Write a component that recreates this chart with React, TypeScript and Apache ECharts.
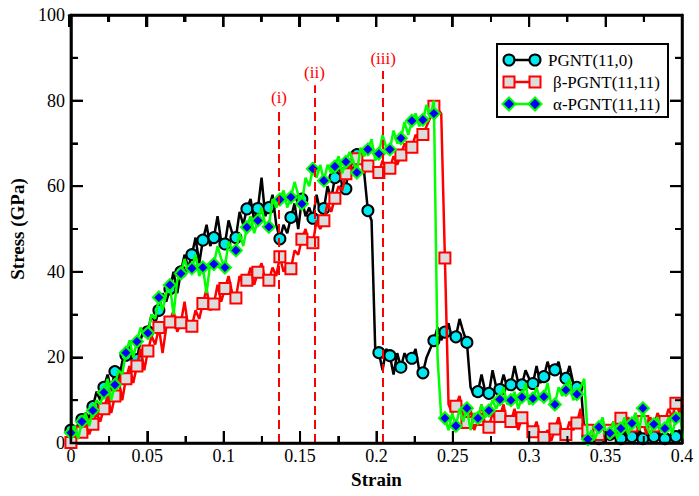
import React, { useEffect, useRef } from "react";
import * as echarts from "echarts";

// sampling grid of the curves (strain)
const LINE_STEP = 0.0024;
const MARKER_STEP = 0.0072;

// PGNT(11,0) — black curve (stress, GPa)
const pgntLine = [
  3, 2, 4.5, 5.5, 7, 6, 8.5, 12, 10, 13, 16, 12.5, 16.7, 14, 19, 20.5, 23, 18,
  19.5, 24, 27, 26, 30, 28, 31, 35, 33, 36, 40, 35, 40, 44, 41, 44, 48, 42,
  47.4, 51, 46, 48, 53, 47, 46.5, 52, 49, 48, 54, 51, 54.7, 57, 52, 54.8, 62, 53,
  55, 58, 51, 47.7, 51, 49, 52.7, 56, 50, 57, 53, 55, 52.5, 58, 54, 54.8, 60, 57,
  62, 65, 60, 59.4, 66, 63, 67.4, 68, 63, 54.3, 52, 22, 21.1, 17, 22, 20.4, 16, 21,
  17.7, 21, 19, 19.8, 22, 17, 16.4, 20, 22, 23.9, 27, 24, 25.9, 28, 24, 24.8, 29, 26,
  23.5, 13, 11, 12, 16, 12, 11.6, 17, 13, 12.5, 16, 13, 13.6, 18, 14, 13.6, 17, 15,
  13.9, 18, 14, 15.5, 19, 16, 17.1, 19, 15, 15.1, 18, 14, 13, 14, 3, 2, 1, 3,
  1.5, 0.5, 2.5, 2.5, 4, 1, 1.5, 3, 0.5, 2, 1, 3, 1.5, 2.5, 0.5, 2, 3.5, 1,
  1.5, 2, 0.5, 2, 3, 1.5,
];

// β-PGNT(11,11) — red curve
const betaLine = [
  0.1, 3, 1, 2.5, 5, 2, 4.4, 7, 5, 8, 11, 7, 11, 15, 10, 15, 18, 14,
  18, 22, 17, 21.5, 25, 23, 27, 21, 27, 28.3, 31, 26, 28.1, 33, 27, 27.3, 31, 29,
  32.6, 36, 31, 32.5, 37, 33, 36.1, 39, 35, 33.9, 39, 37, 38, 41, 37, 39.9, 42, 38,
  38, 41, 39, 43.5, 40, 42, 40.7, 45, 44, 47.6, 50, 46, 46.8, 52, 50, 51.9, 56, 54,
  57.2, 60, 59, 62.9, 65, 63, 66.4, 68, 63, 64.7, 66, 62, 63.2, 66, 64, 64.2, 67, 65,
  67.3, 70, 68, 69.1, 72, 71, 72.1, 74, 76, 78.7, 78, 77, 43.2, 9, 7, 8.6, 11, 6,
  4.8, 8, 3, 5.5, 9, 4, 3.7, 7, 5, 6.2, 9, 4, 5, 8, 3, 5.9, 7, 2,
  2.6, 5, 1, 1.3, 3, 0.5, 3.3, 6, 2, 2, 5, 3, 4.7, 8, 1, 3, 1, 4,
  2, 4.5, 1, 3, 5, 2, 5.8, 3, 6, 4, 7, 3, 5, 2, 6, 4, 7, 5,
  5, 8, 6, 9.3, 7, 10,
];

// α-PGNT(11,11) — green curve
const alphaLine = [
  2.4, 4, 1, 5, 7, 4, 7.6, 10, 9, 11.8, 15, 10, 13.6, 17, 16, 21.1, 24, 20,
  23.7, 27, 25, 25.7, 30, 29, 34, 31, 35, 36.9, 30, 38, 39.6, 43, 40, 40.8, 44, 39,
  41, 35, 42, 41.8, 46, 43, 41, 47, 45, 45, 49, 46, 50.4, 53, 49, 52, 55, 51,
  50.5, 57, 55, 56.9, 59, 55, 57.4, 61, 58, 55.9, 62, 60, 64.1, 62, 65, 61.3, 65, 63,
  64.6, 67, 63, 65.7, 68, 66, 63.2, 69, 67, 68.6, 71, 66, 67.6, 72, 69, 68.6, 73, 70,
  71.2, 75, 72, 75.3, 77, 74, 75.5, 79, 76, 80, 20, 6, 5.8, 3, 7, 4, 8, 5,
  8.1, 3, 7, 5.8, 9, 6, 7.6, 10, 8, 10.2, 13, 9, 10, 12, 8, 10.7, 14, 9,
  10.4, 13, 10, 10.8, 14, 9, 9, 13, 11, 12.4, 15, 10, 11.4, 13, 15, 0.9, 3, 1,
  3.7, 6, 2, 2.3, 5, 1, 3.4, 6, 2, 4.6, 7, 3, 8.1, 4, 2, 4.4, 6, 3,
  3.4, 6, 2, 5.8, 7, 1,
];

// symbol values (every MARKER_STEP)
const pgntMarkers = [
  3, 5.5, 8.5, 13, 16.7, 20.5, 19.5, 26, 31, 36, 40, 44, 47.4, 48, 46.5, 48,
  54.7, 54.8, 55, 47.7, 52.7, 57, 52.5, 54.8, 62, 59.4, 67.4, 54.3, 21.1, 20.4,
  17.7, 19.8, 16.4, 23.9, 25.9, 24.8, 23.5, 12, 11.6, 12.5, 13.6, 13.6, 13.9,
  15.5, 17.1, 15.1, 13, 1.5, 1, 2, 1, 1.5, 1, 1.5, 1, 1.5,
];
const betaMarkers = [
  0.1, 2.5, 4.4, 8, 11, 15, 18, 21.5, 27, 28.3, 28.1, 27.3, 32.6, 32.5, 36.1,
  33.9, 38, 39.9, 38, 43.5, 40.7, 47.6, 46.8, 51.9, 57.2, 62.9, 66.4, 64.7, 63.2,
  64.2, 67.3, 69.1, 72.1, 78.7, 43.2, 8.6, 4.8, 5.5, 3.7, 6.2, 5, 5.9, 2.6, 1.3,
  3.3, 2, 4.7, 3, 2, 3, 5.8, 4, 5, 4, 5, 9.3,
];
const alphaMarkers = [
  2.4, 5, 7.6, 11.8, 13.6, 21.1, 23.7, 25.7, 34, 36.9, 39.6, 40.8, 41, 41.8, 41,
  45, 50.4, 52, 50.5, 56.9, 57.4, 55.9, 64.1, 61.3, 64.6, 65.7, 63.2, 68.6, 67.6,
  68.6, 71.2, 75.3, 75.5, 77, 5.8, 4, 8.1, 5.8, 7.6, 10.2, 10, 10.7, 10.4, 10.8,
  9, 12.4, 11.4, 0.9, 3.7, 2.3, 3.4, 4.6, 8.1, 4.4, 3.4, 5.8,
];

// vertical dashed markers
const annotLabels = ["(i)", "(ii)", "(iii)"];
const annotStrain = [0.1362, 0.1594, 0.2044];
const annotTop = [77.8, 83.6, 86.9];

const legendNames = ["PGNT(11,0)", "\u03b2-PGNT(11,11)", "\u03b1-PGNT(11,11)"];

// axis ranges / tick spacing
const X_MIN = 0, X_MAX = 0.4, X_MAJOR = 0.05, X_MINOR = 0.025;
const Y_MIN = 0, Y_MAX = 100, Y_MAJOR = 20, Y_MINOR = 10;
const MAJOR_LEN = 12, MINOR_LEN = 7;

const FONT = "'Liberation Serif', 'Times New Roman', serif";

const toPairs = (arr: number[], step: number) =>
  arr.map((v, i) => [+(i * step).toFixed(5), v]);

const mkTicks = () => ({
  axisLine: { show: true, onZero: false, lineStyle: { color: "#000", width: 2.5 } },
  axisTick: { show: true, inside: true, length: MAJOR_LEN, lineStyle: { color: "#000", width: 2 } },
  minorTick: { show: true, splitNumber: 2, length: MINOR_LEN, lineStyle: { color: "#000", width: 2 } },
  splitLine: { show: false },
  minorSplitLine: { show: false },
});

export default function App() {
  const ref = useRef<HTMLDivElement>(null);
  useEffect(() => {
    if (!ref.current) return;
    const chart = echarts.init(ref.current, undefined, { renderer: "svg" });

    const xFmt = (v: number) => String(+v.toFixed(2));

    const lx = 509, rx = 535;
    const rows = [60, 82, 104];
    const legendGraphic: any[] = [
      {
        type: "rect",
        z: 100,
        shape: { x: 497, y: 44, width: 171, height: 73 },
        style: { fill: "#fff", stroke: "#000", lineWidth: 2 },
      },
    ];
    const lineColors = ["#000", "#ff0000", "#00ff00"];
    rows.forEach((y, r) => {
      legendGraphic.push({
        type: "line",
        z: 101,
        shape: { x1: lx, y1: y, x2: rx, y2: y },
        style: { stroke: lineColors[r], lineWidth: 2.5 },
      });
      [lx, rx].forEach((cx) => {
        if (r === 0) {
          legendGraphic.push({
            type: "circle",
            z: 102,
            shape: { cx, cy: y, r: 5.5 },
            style: { fill: "#00e8f0", stroke: "#000", lineWidth: 2 },
          });
        } else if (r === 1) {
          legendGraphic.push({
            type: "rect",
            z: 102,
            shape: { x: cx - 5.5, y: y - 5.5, width: 11, height: 11 },
            style: { fill: "#dcdcdc", stroke: "#ff0000", lineWidth: 2 },
          });
        } else {
          legendGraphic.push({
            type: "polygon",
            z: 102,
            shape: { points: [[cx, y - 6.5], [cx + 6.5, y], [cx, y + 6.5], [cx - 6.5, y]] },
            style: { fill: "#0000ff", stroke: "#00ff00", lineWidth: 2 },
          });
        }
      });
      legendGraphic.push({
        type: "text",
        z: 102,
        x: r === 0 ? 548 : 553,
        y,
        style: {
          text: legendNames[r],
          fontFamily: FONT,
          fontSize: 17,
          fill: "#000",
          verticalAlign: "middle",
          align: "left",
        },
      });
    });

    const option: any = {
      animation: false,
      grid: [
        { left: 69, right: 17, top: 15, bottom: 53 },
        { left: 69, right: 17, top: 15, bottom: 53 },
      ],
      xAxis: [
        {
          gridIndex: 0, type: "value", min: X_MIN, max: X_MAX, interval: X_MAJOR, position: "bottom",
          ...mkTicks(),
          axisLabel: { fontFamily: FONT, fontSize: 18, color: "#000", margin: 4, formatter: xFmt },
          name: "Strain", nameLocation: "middle", nameGap: 20,
          nameTextStyle: { fontFamily: FONT, fontSize: 19, fontWeight: "bold", color: "#000" },
        },
        {
          gridIndex: 1, type: "value", min: X_MIN, max: X_MAX, interval: X_MAJOR, position: "top",
          ...mkTicks(), axisLabel: { show: false },
        },
      ],
      yAxis: [
        {
          gridIndex: 0, type: "value", min: Y_MIN, max: Y_MAX, interval: Y_MAJOR, position: "left",
          ...mkTicks(),
          axisLabel: { fontFamily: FONT, fontSize: 18, color: "#000", margin: 6 },
          name: "Stress (GPa)", nameLocation: "middle", nameGap: 42,
          nameTextStyle: { fontFamily: FONT, fontSize: 19, fontWeight: "bold", color: "#000" },
        },
        {
          gridIndex: 1, type: "value", min: Y_MIN, max: Y_MAX, interval: Y_MAJOR, position: "right",
          ...mkTicks(), axisLabel: { show: false },
        },
      ],
      series: [
        {
          name: legendNames[0],
          type: "line",
          z: 2,
          data: toPairs(pgntLine, LINE_STEP),
          showSymbol: false,
          symbol: "none",
          lineStyle: { color: "#000", width: 2.5 },
        },
        {
          name: legendNames[0] + " markers",
          type: "scatter",
          z: 3,
          data: toPairs(pgntMarkers, MARKER_STEP),
          symbol: "circle",
          symbolSize: 11,
          itemStyle: { color: "#00e8f0", borderColor: "#000", borderWidth: 2, opacity: 1 },
        },
        {
          name: legendNames[1],
          type: "line",
          z: 4,
          data: toPairs(betaLine, LINE_STEP),
          showSymbol: false,
          symbol: "none",
          lineStyle: { color: "#ff0000", width: 2.5 },
        },
        {
          name: legendNames[1] + " markers",
          type: "scatter",
          z: 5,
          data: toPairs(betaMarkers, MARKER_STEP),
          symbol: "rect",
          symbolSize: 11,
          itemStyle: { color: "#dcdcdc", borderColor: "#ff0000", borderWidth: 2, opacity: 1 },
        },
        {
          name: legendNames[2],
          type: "line",
          z: 6,
          data: toPairs(alphaLine, LINE_STEP),
          showSymbol: false,
          symbol: "none",
          lineStyle: { color: "#00ff00", width: 2.5 },
        },
        {
          name: legendNames[2] + " markers",
          type: "scatter",
          z: 7,
          data: toPairs(alphaMarkers, MARKER_STEP),
          symbol: "diamond",
          symbolSize: 12,
          itemStyle: { color: "#0000ff", borderColor: "#00ff00", borderWidth: 2, opacity: 1 },
          markLine: {
            silent: true,
            symbol: ["none", "none"],
            animation: false,
            z: 10,
            lineStyle: { color: "#ff0000", type: [9, 5], width: 2 },
            data: annotLabels.map((lab, i) => [
              { coord: [annotStrain[i], 0] },
              {
                coord: [annotStrain[i], annotTop[i]],
                label: {
                  show: true,
                  position: "end",
                  formatter: lab,
                  color: "#ff0000",
                  fontFamily: FONT,
                  fontSize: 17,
                  distance: 4,
                },
              },
            ]),
          },
        },
      ],
      graphic: { elements: legendGraphic },
    };

    chart.setOption(option);

    // frame ticks, placed through the chart's own axis scales
    const px = (v: number) => chart.convertToPixel({ xAxisIndex: 0 }, v) as number;
    const py = (v: number) => chart.convertToPixel({ yAxisIndex: 0 }, v) as number;
    const left = px(X_MIN), right = px(X_MAX), top = py(Y_MAX), bottom = py(Y_MIN);
    const tickEls: any[] = [];
    const tickStyle = { stroke: "#000", lineWidth: 2 };
    const nX = Math.round((X_MAX - X_MIN) / X_MINOR);
    for (let i = 1; i < nX; i++) {
      const v = X_MIN + i * X_MINOR;
      const x = px(v);
      const len = i % Math.round(X_MAJOR / X_MINOR) === 0 ? MAJOR_LEN : MINOR_LEN;
      tickEls.push({ type: "line", z: 150, silent: true, shape: { x1: x, y1: bottom, x2: x, y2: bottom - len }, style: tickStyle });
      tickEls.push({ type: "line", z: 150, silent: true, shape: { x1: x, y1: top, x2: x, y2: top + len }, style: tickStyle });
    }
    const nY = Math.round((Y_MAX - Y_MIN) / Y_MINOR);
    for (let i = 1; i < nY; i++) {
      const v = Y_MIN + i * Y_MINOR;
      const y = py(v);
      const len = i % Math.round(Y_MAJOR / Y_MINOR) === 0 ? MAJOR_LEN : MINOR_LEN;
      tickEls.push({ type: "line", z: 150, silent: true, shape: { x1: left, y1: y, x2: left + len, y2: y }, style: tickStyle });
      tickEls.push({ type: "line", z: 150, silent: true, shape: { x1: right, y1: y, x2: right - len, y2: y }, style: tickStyle });
    }
    // frame
    tickEls.push({
      type: "rect",
      z: 150,
      silent: true,
      shape: { x: left, y: top, width: right - left, height: bottom - top },
      style: { fill: "none", stroke: "#000", lineWidth: 2.5 },
    });

    chart.setOption({ graphic: { elements: [...legendGraphic, ...tickEls] } });

    return () => chart.dispose();
  }, []);

  return (
    <div
      ref={ref}
      style={{ position: "absolute", left: 0, top: 0, width: 699, height: 496, background: "#fff" }}
    />
  );
}
